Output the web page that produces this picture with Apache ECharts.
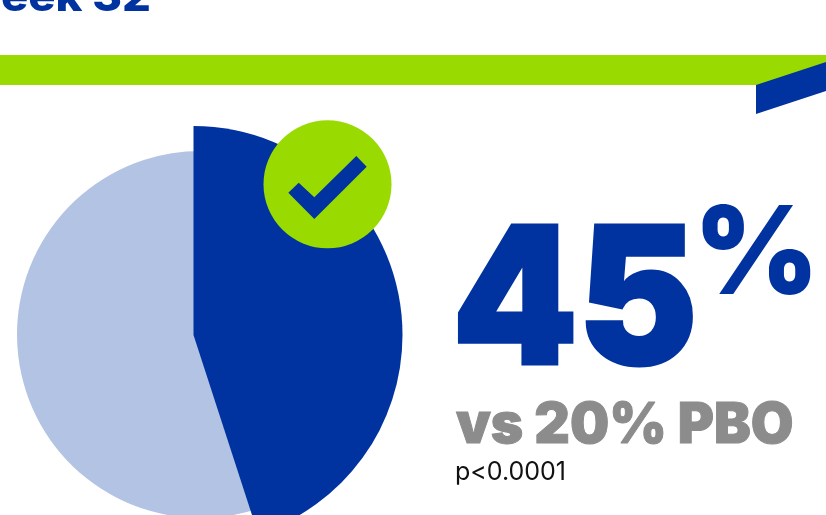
<!DOCTYPE html>
<html>
<head>
<meta charset="utf-8">
<style>html,body{margin:0;padding:0;background:#fff}#chart{width:826px;height:515px}</style>
<script src="https://cdn.jsdelivr.net/npm/echarts@6/dist/echarts.min.js"></script>
</head>
<body>
<div id="chart"></div>
<script>
// Response rates at week 32
const heading = 'Week 32';
const treatedRate = 45;
const placeboRate = 20;
const comparator = 'PBO';
const pValue = 'p<0.0001';
const responderShare = [treatedRate, 100 - treatedRate];

const BLUE = '#0033A0', PALE = '#B3C3E3', GREEN = '#99DB00', GREY = '#8C8C8C';
const HEAVY = 'Inter, "Noto Sans", sans-serif';

// Text block; a thin outline of the same colour thickens the heaviest lines
function label(text, x, y, size, weight, color, scaleX, align, outline) {
  return {
    type: 'text', z: 100, x, y, scaleX: scaleX || 1, silent: true,
    style: { text, fill: color, stroke: outline ? color : null, lineWidth: outline || 0,
             lineJoin: 'round', align: align || 'left', verticalAlign: 'middle',
             font: weight + ' ' + size + 'px ' + HEAVY }
  };
}

const chart = echarts.init(document.getElementById('chart'), null, { renderer: 'canvas' });
chart.setOption({
  animation: false,
  backgroundColor: '#fff',
  series: [
    {
      type: 'pie', z: 2, silent: true, startAngle: 90, clockwise: true,
      center: [200.5, 334.5], radius: [0, 183.5],
      label: { show: false }, labelLine: { show: false },
      data: [
        { value: responderShare[0], itemStyle: { color: 'rgba(0,0,0,0)' } },
        { value: responderShare[1], itemStyle: { color: PALE } }
      ]
    },
    {
      type: 'pie', z: 3, silent: true, startAngle: 90, clockwise: true,
      center: [193.5, 335], radius: [0, 209],
      label: { show: false }, labelLine: { show: false },
      data: [
        { value: responderShare[0], itemStyle: { color: BLUE } },
        { value: responderShare[1], itemStyle: { color: 'rgba(0,0,0,0)' } }
      ]
    }
  ],
  graphic: [
    { type: 'rect', z: 50, silent: true, shape: { x: 0, y: 55, width: 826, height: 30 }, style: { fill: GREEN } },
    { type: 'polygon', z: 51, silent: true, shape: { points: [[756, 85], [826, 62], [826, 91], [756, 114]] }, style: { fill: BLUE } },
    { type: 'circle', z: 60, silent: true, shape: { cx: 327.5, cy: 184.3, r: 64 }, style: { fill: GREEN } },
    { type: 'polygon', z: 61, silent: true,
      shape: { points: [[356.3, 156], [366.7, 166.7], [314.3, 219], [288.3, 192.7], [298.7, 182.7], [314.3, 197.3]] },
      style: { fill: BLUE } },
    label(heading, 151, -2, 42, 800, BLUE, 1.08, 'right'),
    label(String(treatedRate), 452, 307, 191, 900, BLUE, 0.94, 'left', 3),
    label('%', 694, 257, 122, 900, BLUE, 0.98),
    label('vs ' + placeboRate + '% ' + comparator, 456, 426.5, 56, 900, GREY, 0.985, 'left', 1),
    label(pValue, 455, 472, 25, 400, '#111', 1)
  ]
});
</script>
</body>
</html>
